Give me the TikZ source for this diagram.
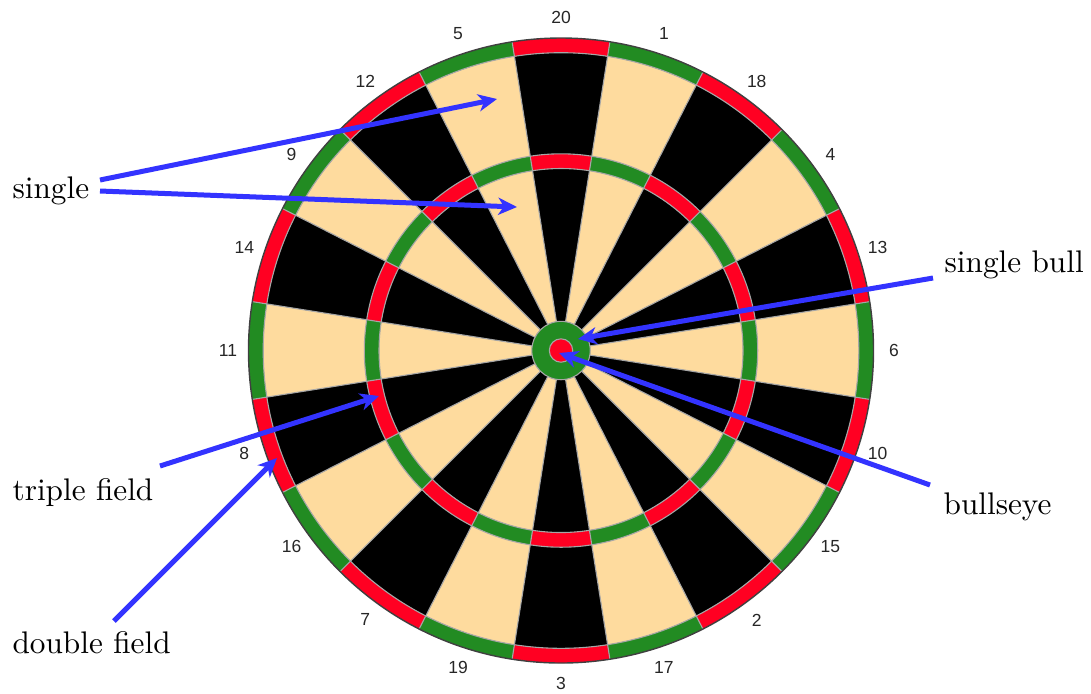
\documentclass[tikz,border=0pt]{standalone}
\usepackage{fontspec}
\newfontfamily\numfont{Liberation Sans}
\usetikzlibrary{arrows.meta}
\definecolor{dred}{RGB}{255,0,34}
\definecolor{dgreen}{RGB}{34,139,34}
\definecolor{dbeige}{RGB}{254,219,158}
\definecolor{dblack}{RGB}{0,0,0}
\definecolor{arrowblue}{RGB}{51,51,255}
\begin{document}
\begin{tikzpicture}[x=0.32pt,y=-0.32pt,
  lbl/.style={anchor=base west,inner sep=0pt,font=\normalsize},
  num/.style={inner sep=0pt,text=black!85,font=\numfont\fontsize{5.6}{6.5}\selectfont},
  pointer/.style={draw=arrowblue,line width=1.6pt,-{Stealth[length=6pt,width=5.5pt,inset=1.8pt]}},
  seam/.style={draw=gray!70,line width=0.35pt}]
\useasboundingbox (0,0) rectangle (1091,693);
\begin{scope}[shift={(561,350.5)},yscale=-1]
\def\rB{29.2}\def\rE{11.7}\def\rTi{182}\def\rTo{196.7}\def\rDi{297.8}\def\rDo{312.5}
\foreach \n [count=\i from 0] in {20,1,18,4,13,6,10,15,2,17,3,19,7,16,8,11,14,9,12,5} {
  \pgfmathsetmacro\a{99-18*\i}
  \pgfmathsetmacro\b{81-18*\i}
  \ifodd\i \def\sc{dbeige}\def\rc{dgreen}\else \def\sc{dblack}\def\rc{dred}\fi
  \fill[\sc] (\a:\rB) arc[start angle=\a,end angle=\b,radius=\rB] -- (\b:\rTi) arc[start angle=\b,end angle=\a,radius=\rTi] -- cycle;
  \fill[\rc] (\a:\rTi) arc[start angle=\a,end angle=\b,radius=\rTi] -- (\b:\rTo) arc[start angle=\b,end angle=\a,radius=\rTo] -- cycle;
  \fill[\sc] (\a:\rTo) arc[start angle=\a,end angle=\b,radius=\rTo] -- (\b:\rDi) arc[start angle=\b,end angle=\a,radius=\rDi] -- cycle;
  \fill[\rc] (\a:\rDi) arc[start angle=\a,end angle=\b,radius=\rDi] -- (\b:\rDo) arc[start angle=\b,end angle=\a,radius=\rDo] -- cycle;
  \node[num] (n\n) at ({90-18*\i}:333) {\n};
}
\foreach \k in {0,...,19} \draw[seam] ({9+18*\k}:\rB) -- ({9+18*\k}:\rDo);
\draw[seam] (0,0) circle[radius=\rTi];
\draw[seam] (0,0) circle[radius=\rTo];
\draw[seam] (0,0) circle[radius=\rDi];
\draw[draw=black!75,line width=0.45pt] (0,0) circle[radius=\rDo];
\filldraw[fill=dgreen,seam] (0,0) circle[radius=\rB];
\filldraw[fill=dred,seam] (0,0) circle[radius=\rE];
\end{scope}
% labels
\node[lbl] (single) at (12,198) {single};
\node[lbl] (triple) at (12,500) {triple field};
\node[lbl] (double) at (12,653) {double field};
\node[lbl] (sbull) at (944,272) {single bull};
\node[lbl] (beye) at (943,514) {bullseye};
% connector ends
\coordinate (s1a) at (100,180);
\coordinate (s1b) at (497,99);
\coordinate (s2a) at (100,191);
\coordinate (s2b) at (517,207);
\coordinate (sba) at (933,278);
\coordinate (sbb) at (578,339);
\coordinate (bea) at (930,485);
\coordinate (beb) at (559,353);
\coordinate (tra) at (160,466);
\coordinate (trb) at (379,396);
\coordinate (dba) at (114,621);
\coordinate (dbb) at (277,458);
\draw[pointer] (s1a) -- (s1b);
\draw[pointer] (s2a) -- (s2b);
\draw[pointer] (sba) -- (sbb);
\draw[pointer] (bea) -- (beb);
\draw[pointer] (tra) -- (trb);
\draw[pointer] (dba) -- (dbb);
\end{tikzpicture}
\end{document}
